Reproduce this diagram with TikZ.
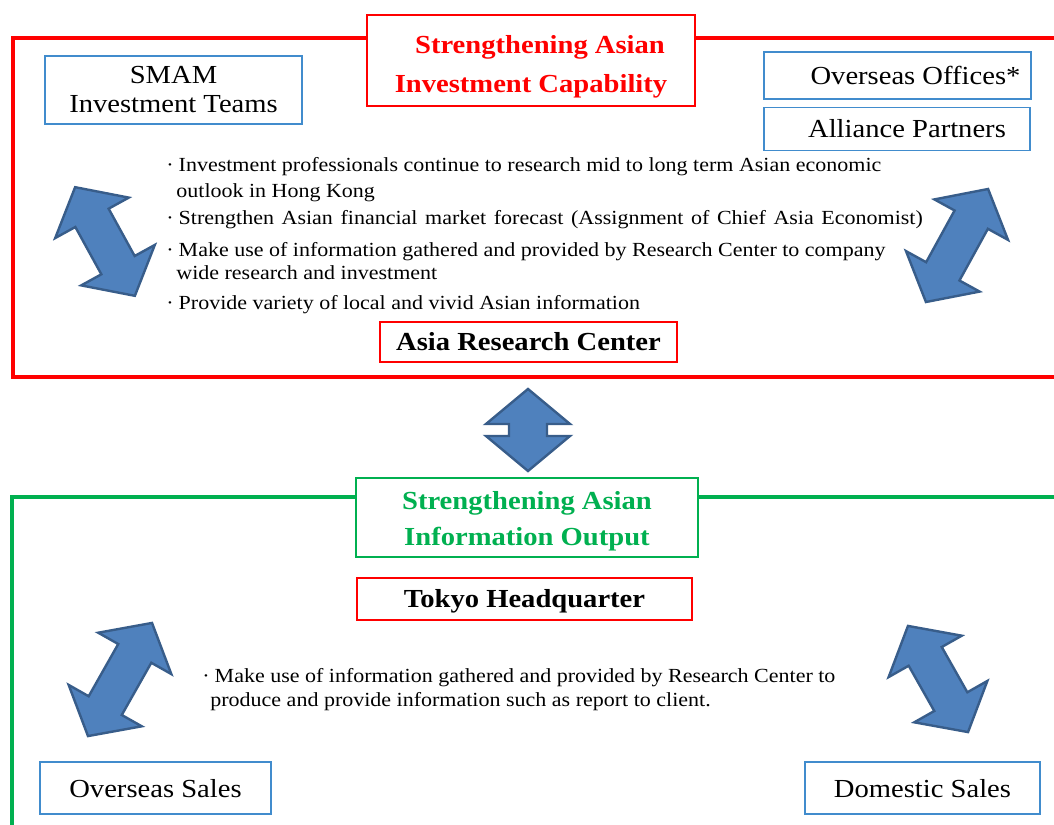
\documentclass[tikz,border=0pt]{standalone}
\usepackage{fontspec}
\setmainfont{Liberation Serif}[FakeStretch=1.1]
\usepackage{tikz}

\definecolor{boxblue}{RGB}{65,140,205}
\definecolor{arrowfill}{RGB}{79,129,189}
\definecolor{arrowline}{RGB}{56,93,138}
\definecolor{titlegreen}{RGB}{0,176,80}

\tikzset{
  redbox/.style={draw=red, line width=0.75pt, fill=white, inner sep=0pt},
  bluebox/.style={draw=boxblue, line width=0.75pt, fill=white, inner sep=0pt,
    font=\fontsize{13}{14.5}\selectfont, align=center},
  greenbox/.style={draw=titlegreen, line width=0.75pt, fill=white, inner sep=0pt},
  line/.style={anchor=base west, inner sep=0pt, font=\fontsize{10}{12}\selectfont},
  frame/.style={line width=2pt}
}

% blue two-headed arrow: centre, angle, half length
\newcommand{\twoway}[3]{%
\begin{scope}[shift={(#1)},rotate=#2]
\filldraw[fill=arrowfill,draw=arrowline,line width=1.2pt]
 (-#3,0) -- (-#3+35,42) -- (-#3+35,19) -- (#3-35,19) -- (#3-35,42) -- (#3,0)
 -- (#3-35,-42) -- (#3-35,-19) -- (-#3+35,-19) -- (-#3+35,-42) -- cycle;
\end{scope}}
\newcommand{\dotitem}{·\hspace{2.5pt}}

\begin{document}
\begin{tikzpicture}[x=0.5pt,y=-0.5pt]
\clip (0,0) rectangle (1054,824);
\fill[white] (0,0) rectangle (1054,824);

% upper frame
\draw[frame,red] (1070,38) -- (13,38) -- (13,377) -- (1070,377);
\node[redbox, minimum width=164pt, minimum height=45.5pt, text=red, align=center,
  font=\fontsize{13}{19.5}\selectfont\bfseries] (cap) at (531,60.5)
  {\rule{0pt}{15pt}\hspace*{9pt}Strengthening Asian\\Investment Capability};
\node[bluebox, minimum width=128.5pt, minimum height=34pt] (smam) at (173.5,90)
  {SMAM\\Investment Teams};
\node[bluebox, minimum width=133.5pt, minimum height=23.5pt] (offices) at (897.5,75.5)
  {\hspace{18pt}Overseas Offices*};
\node[bluebox, minimum width=133pt, minimum height=21.5pt] (partners) at (897,129)
  {\hspace{10pt}Alliance Partners};

\node[line] (b1) at (166,171) {\dotitem Investment professionals continue to research mid to long term Asian economic};
\node[line] (b1a) at (176,197) {outlook in Hong Kong};
\node[line] (b2) at (166,224) {\spaceskip=3.8pt plus 1pt\relax\dotitem Strengthen Asian financial market forecast (Assignment of Chief Asia Economist)};
\node[line] (b3) at (166,256) {\dotitem Make use of information gathered and provided by Research Center to company};
\node[line] (b3a) at (176,279) {wide research and investment};
\node[line] (b4) at (166,309) {\dotitem Provide variety of local and vivid Asian information};

\node[redbox, minimum width=148.5pt, minimum height=20pt,
  font=\fontsize{13}{15}\selectfont\bfseries] (arc) at (528.5,342) {Asia Research Center};

\twoway{105,241.5}{-61.2}{62}
\twoway{957,245.5}{61.2}{64.5}
\twoway{528,430}{90}{41}

% lower frame
\draw[frame,titlegreen] (1070,497) -- (12,497) -- (12,830);
\node[greenbox, minimum width=171pt, minimum height=39.5pt, text=titlegreen, align=center,
  font=\fontsize{13}{18}\selectfont\bfseries] (out) at (527,517.5)
  {\rule{0pt}{13pt}Strengthening Asian\\Information Output};
\node[redbox, minimum width=167.5pt, minimum height=21pt,
  font=\fontsize{13}{15}\selectfont\bfseries] (tokyo) at (524.5,599)
  {\rule{0pt}{11pt}Tokyo Headquarter};

\node[line] (c1) at (202,682) {\dotitem Make use of information gathered and provided by Research Center to};
\node[line] (c1a) at (210,706) {produce and provide information such as report to client.};

\twoway{120,679.5}{60.5}{65}
\twoway{938,679}{-60.5}{61}

\node[bluebox, minimum width=115.5pt, minimum height=26pt] (osales) at (155.5,788) {\rule{0pt}{10pt}Overseas Sales};
\node[bluebox, minimum width=117.5pt, minimum height=26pt] (dsales) at (922.5,788) {\rule{0pt}{10pt}Domestic Sales};
\end{tikzpicture}
\end{document}
